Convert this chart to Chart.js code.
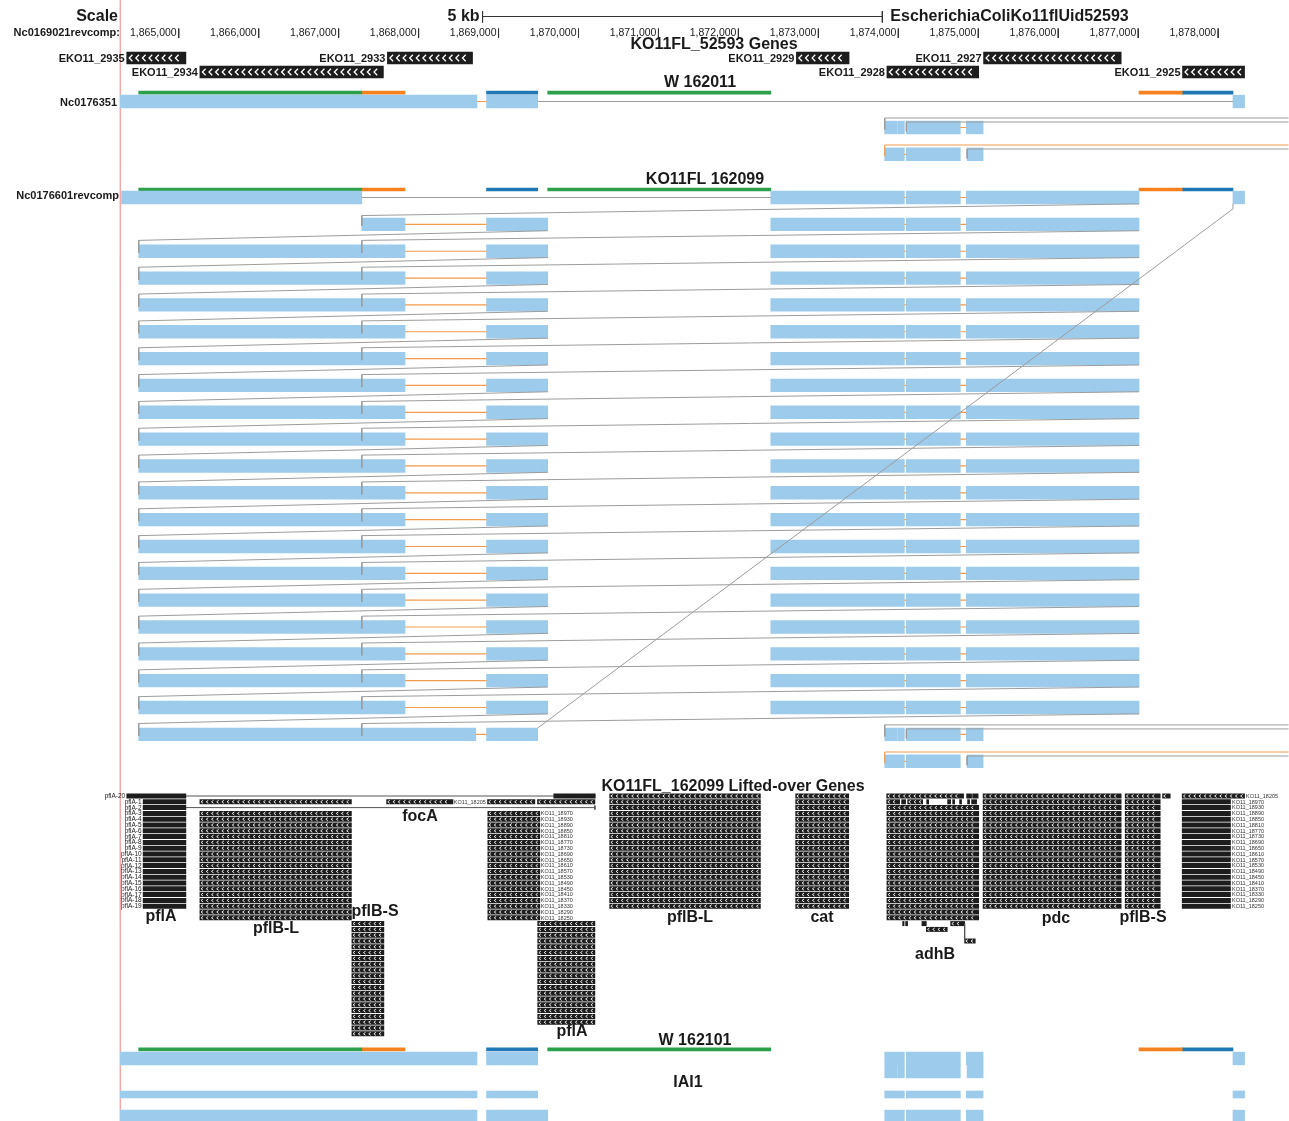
<!DOCTYPE html>
<html><head><meta charset="utf-8">
<script src="https://cdn.jsdelivr.net/npm/chart.js@4.4.1/dist/chart.umd.min.js"></script>
<style>html,body{margin:0;padding:0;background:#fff;overflow:hidden}canvas{display:block}</style>
</head><body>
<canvas id="c" width="1289" height="1121" style="width:1289px;height:1121px"></canvas>
<script>
// ================= DATA (genomic coordinates, Nc0169021revcomp) =================
const tickValues = [1865000,1866000,1867000,1868000,1869000,1870000,1871000,1872000,1873000,1874000,1875000,1876000,1877000,1878000];
const tickLabels = ['1,865,000','1,866,000','1,867,000','1,868,000','1,869,000','1,870,000','1,871,000','1,872,000','1,873,000','1,874,000','1,875,000','1,876,000','1,877,000','1,878,000'];
const viewRange = [1864270, 1878880];
const scaleBar = [1868800, 1873800];   // 5 kb

// KO11FL_52593 Genes
const geneNames  = ['EKO11_2935','EKO11_2934','EKO11_2933','EKO11_2929','EKO11_2928','EKO11_2927','EKO11_2925'];
const geneStarts = [1864350,1865265,1867610,1872725,1873857,1875066,1877554];
const geneEnds   = [1865090,1867560,1868675,1873384,1875005,1876787,1878330];
const geneLanes  = [0,1,0,0,1,0,1];

// synteny annotation segments shown above W 162011 / KO11FL 162099 / W 162101
const synGreen  = [[1864500,1867290],[1869615,1872405]];
const synOrange = [[1867290,1867830],[1877010,1877550]];
const synBlue   = [[1868850,1869490],[1877550,1878185]];

// chain / net alignment blocks
const blocksNc0176351 = [[1864270,1868730],[1868850,1869490],[1878185,1878330]];
const blocksSplitA    = [[1873830,1873980],[1873990,1874075],[1874100,1874775],[1874850,1875060]];
const blocksSplitB    = [[1873830,1874075],[1874100,1874775],[1874860,1875060]];
const blocksNc0176601 = [[1864285,1867290],[1872405,1874075],[1874100,1874775],[1874850,1877010],[1878185,1878330]];
const blocksKoFirst   = [[1867290,1867830],[1868850,1869615],[1872405,1874075],[1874100,1874775],[1874850,1877010]];
const blocksKoMid     = [[1864500,1867830],[1868850,1869615],[1872405,1874075],[1874100,1874775],[1874850,1877010]];
const blocksKoLast    = [[1864500,1868716],[1868850,1869490]];
const koRowKinds      = ['first','mid','mid','mid','mid','mid','mid','mid','mid','mid','mid','mid','mid','mid','mid','mid','mid','mid','mid','last'];
const blocksW101a     = [[1864270,1868730],[1868850,1869490],[1873830,1874075],[1874100,1874775],[1874850,1875060],[1878185,1878330]];
const blocksW101b     = [[1873830,1873980],[1873990,1874075],[1874100,1874775],[1874860,1875060]];
const blocksIAI1a     = [[1864270,1868730],[1868850,1869490],[1873830,1874075],[1874100,1874775],[1874850,1875060],[1878185,1878330]];
const blocksIAI1b     = [[1864270,1868730],[1868850,1869615],[1873830,1874075],[1874100,1874775],[1874850,1875060],[1878185,1878330]];

// gaps (double-sided, orange) and single-sided gaps (grey)
const gapNc0176351 = [[1868730,1868850]];
const gapSplitA    = [[1874775,1874850]];
const gapSplitB    = [[1874075,1874100]];
const gapNc0176601 = [[1874075,1874100],[1874775,1874850]];
const gapKo        = [[1867830,1868850],[1874075,1874100],[1874775,1874850]];
const gapKoLast    = [[1868716,1868850]];
const lineNc0176351 = [[1869490,1878185]];
const lineNc0176601 = [[1867290,1872405]];
const koLinkFrom = [1864500, 1867290];
const koLinkTo   = [1869615, 1877010];
const koDiagonal = [1869490, 1878185];
const splitAFrom = [1873830, 1874100];
const splitBFrom = [1873830, 1874860];

// KO11FL_162099 Lifted-over Genes: columns [start, end, firstLane, lastLane, chevrons]
const liftedColumns = [
  [1864555,1865090, 1,19,false],
  [1865265,1867160, 3,21,true],
  [1867166,1867566,22,41,true],
  [1868866,1869516, 3,21,true],
  [1869490,1870205,22,39,true],
  [1870390,1872275, 0,19,true],
  [1872716,1873379, 0,19,true],
  [1873857,1875005, 2,21,true],
  [1875060,1876787, 0,19,true],
  [1876837,1877275, 0,19,true],
  [1877550,1878154, 1,19,false]
];
// single lifted pieces [start, end, lane, chevrons]
const liftedPieces = [
  [1864350,1865090,0,false],[1869690,1870210,0,false],
  [1865265,1867160,1,true],[1867600,1868430,1,true],[1868862,1869454,1,true],[1869487,1870205,1,true],
  [1873854,1874816,0,true],[1874854,1874916,0,false],[1874929,1874998,0,false],
  [1877304,1877400,0,true],[1877550,1878330,0,true],
  [1873854,1874016,1,true],[1874041,1874091,1,false],[1874116,1874304,1,true],[1874354,1874379,1,false],
  [1874616,1874654,1,false],[1874679,1874704,1,false],[1874766,1874791,1,false],[1874866,1874891,1,false],[1874916,1874979,1,false],
  [1874054,1874072,22,false],[1874091,1874116,22,false],[1874295,1874350,22,false],[1874654,1874829,22,true],
  [1874350,1874612,23,true],[1874829,1874962,25,true]
];
const liftedLines = [[1865090,1869690,0],[1865090,1870205,2]];
const pflALabels = ['pflA-20','pflA-1','pflA-2','pflA-3','pflA-4','pflA-5','pflA-6','pflA-7','pflA-8','pflA-9','pflA-10','pflA-11','pflA-12','pflA-13','pflA-14','pflA-15','pflA-16','pflA-17','pflA-18','pflA-19'];
const liftIds = ['KO11_18970','KO11_18930','KO11_18890','KO11_18850','KO11_18810','KO11_18770','KO11_18730','KO11_18690','KO11_18650','KO11_18610','KO11_18570','KO11_18530','KO11_18490','KO11_18450','KO11_18410','KO11_18370','KO11_18330','KO11_18290','KO11_18250'];
const liftedNames = ['pflA','pflB-L','pflB-S','focA','pflA','pflB-L','cat','adhB','pdc','pflB-S'];

// ================= LAYOUT / STYLE =================
const ROW = { gene:[58,72], synTop:92.7, nc0176351:101.5, w1a:127.5, w1b:154.3, synMid:189.5, nc0176601:197.5,
  koStart:224.4, koPitch:26.84, x1:734.4, x2:761.3, liftStart:796, liftPitch:5.8,
  synBot:1049.3, w101a:1058.5, w101b:1071.5, iai1a:1094.5, iai1b:1116.5 };
const H = { block:12.7, syn:3, gene:12, lift:4.3, thin:7 };
const liftedNamePos = [[161,917],[276,929],[375,912],[420,817],[572,1032],[690,918],[822,918],[935,955],[1056,919],[1143,918]];
const C = { block:'#9ccbeb', green:'#2ca04a', orange:'#f5821f', blue:'#1f78b4', black:'#1d1d1d',
  link:'#9c9c9c', gap:'#f29b4c', text:'#1a1a1a', guide:'#f4a9a9' };
const FONT = "'Liberation Sans', Arial, sans-serif";
const PX_PER_BP = 0.07996, TICK0_PX = 178.7;
const X_MIN = 1865000 - TICK0_PX / PX_PER_BP, X_MAX = X_MIN + 1289 / PX_PER_BP;

const koY = k => ROW.koStart + ROW.koPitch * k;
const laneY = i => ROW.liftStart + ROW.liftPitch * i;
const rowTop = y => y - H.block / 2, rowBot = y => y + H.block / 2;

// ---------- build bar items ----------
const blockItems = [], thinItems = [];
const addBlocks = (arr, list, y) => list.forEach(([s, e]) => arr.push({ x: [s, e], y }));
addBlocks(blockItems, blocksNc0176351, ROW.nc0176351);
addBlocks(blockItems, blocksSplitA, ROW.w1a);
addBlocks(blockItems, blocksSplitB, ROW.w1b);
addBlocks(blockItems, blocksNc0176601, ROW.nc0176601);
const kindBlocks = { first: blocksKoFirst, mid: blocksKoMid, last: blocksKoLast };
koRowKinds.forEach((k, i) => addBlocks(blockItems, kindBlocks[k], koY(i)));
addBlocks(blockItems, blocksSplitA, ROW.x1);
addBlocks(blockItems, blocksSplitB, ROW.x2);
addBlocks(blockItems, blocksW101a, ROW.w101a);
addBlocks(blockItems, blocksW101b, ROW.w101b);
addBlocks(blockItems, blocksIAI1b, ROW.iai1b);
addBlocks(thinItems, blocksIAI1a, ROW.iai1a);

const synItems = { g: [], o: [], b: [] };
[ROW.synTop, ROW.synMid, ROW.synBot].forEach(y => {
  addBlocks(synItems.g, synGreen, y); addBlocks(synItems.o, synOrange, y); addBlocks(synItems.b, synBlue, y);
});

const geneItems = geneNames.map((n, i) => ({ x: [geneStarts[i], geneEnds[i]], y: ROW.gene[geneLanes[i]] }));

const liftChev = [], liftSolid = [];
liftedColumns.forEach(([s, e, a, b, chev]) => {
  for (let l = a; l <= b; l++) (chev ? liftChev : liftSolid).push({ x: [s, e], y: laneY(l) });
});
liftedPieces.forEach(([s, e, l, chev]) => (chev ? liftChev : liftSolid).push({ x: [s, e], y: laneY(l) }));

// ---------- build line segments ----------
function segs() { const pts = []; pts.add = (x1, y1, x2, y2) => { pts.push({x:x1,y:y1},{x:x2,y:y2},{x:null,y:null}); }; return pts; }
const greyLines = segs(), orangeLines = segs(), darkLines = segs(), guideLine = segs(), liftLines = segs();

const addGaps = (list, y) => list.forEach(([s, e]) => orangeLines.add(s, y, e, y));
addGaps(gapNc0176351, ROW.nc0176351);
addGaps(gapSplitA, ROW.w1a); addGaps(gapSplitB, ROW.w1b);
addGaps(gapNc0176601, ROW.nc0176601);
koRowKinds.forEach((k, i) => addGaps(k === 'last' ? gapKoLast : gapKo, koY(i)));
addGaps(gapSplitA, ROW.x1); addGaps(gapSplitB, ROW.x2);
lineNc0176351.forEach(([s, e]) => greyLines.add(s, ROW.nc0176351, e, ROW.nc0176351));
lineNc0176601.forEach(([s, e]) => greyLines.add(s, ROW.nc0176601, e, ROW.nc0176601));

// chain links between stacked KO11FL rows
koRowKinds.forEach((k, i) => {
  const y = koY(i);
  const prevBot = i === 0 ? rowBot(ROW.nc0176601) : rowBot(koY(i - 1));
  if (i === 0) {
    greyLines.add(koLinkFrom[1], rowTop(y) - 2.5, koLinkTo[1], prevBot);
    greyLines.add(koLinkFrom[1], rowTop(y) - 2.5, koLinkFrom[1], rowTop(y) + 8);
  } else {
    for (let j = 0; j < 2; j++) {
      greyLines.add(koLinkFrom[j], rowTop(y) - 4.5, koLinkTo[j], prevBot);
      greyLines.add(koLinkFrom[j], rowTop(y) - 4.5, koLinkFrom[j], rowTop(y) + 8);
    }
  }
});
greyLines.add(koDiagonal[0], rowTop(koY(19)), koDiagonal[1], rowBot(ROW.nc0176601) + 5);
greyLines.add(koDiagonal[1], rowBot(ROW.nc0176601) + 5, koDiagonal[1], rowBot(ROW.nc0176601));

// split rows leaving the view to the right
[ROW.w1a, ROW.x1].forEach(y => {
  greyLines.add(splitAFrom[0], y - 9.5, viewRange[1], y - 9.5);
  greyLines.add(splitAFrom[0], y - 9.5, splitAFrom[0], y + 2);
  greyLines.add(splitAFrom[1], y - 5.5, viewRange[1], y - 5.5);
  greyLines.add(splitAFrom[1], y - 5.5, splitAFrom[1], y + 4);
});
[ROW.w1b, ROW.x2].forEach(y => {
  orangeLines.add(splitBFrom[0], y - 9.3, viewRange[1], y - 9.3);
  orangeLines.add(splitBFrom[0], y - 9.3, splitBFrom[0], y + 2);
  greyLines.add(splitBFrom[1], y - 5.3, viewRange[1], y - 5.3);
  greyLines.add(splitBFrom[1], y - 5.3, splitBFrom[1], y + 4);
});

// scale bar and ruler ticks
darkLines.add(scaleBar[0], 16.5, scaleBar[1], 16.5);
darkLines.add(scaleBar[0], 11, scaleBar[0], 22.5);
darkLines.add(scaleBar[1], 11, scaleBar[1], 22.5);
tickValues.forEach(t => darkLines.add(t, 28.5, t, 38));
guideLine.add(viewRange[0], 0, viewRange[0], 1121);
liftedLines.forEach(([s, e, l]) => liftLines.add(s, laneY(l), e, laneY(l)));
liftLines.add(liftedLines[1][1], laneY(2) - 2, liftedLines[1][1], laneY(2) + 2);
liftLines.add(1874829, laneY(22), 1874829, laneY(25));

// ================= CHART =================
const barDS = (data, thick, color, extra) => Object.assign({ type: 'bar', data, barThickness: thick, backgroundColor: color,
  borderWidth: 0, grouped: false, order: 5 }, extra || {});
const lineDS = (data, color, w, order) => ({ type: 'line', data, borderColor: color, borderWidth: w, pointRadius: 0,
  pointHoverRadius: 0, fill: false, tension: 0, spanGaps: false, order });

const chevronPlugin = {
  id: 'chevrons',
  afterDatasetsDraw(chart) {
    const ctx = chart.ctx;
    chart.data.datasets.forEach((ds, i) => {
      const c = ds.chevron; if (!c) return;
      const meta = chart.getDatasetMeta(i);
      ctx.save(); ctx.strokeStyle = '#ffffff'; ctx.lineWidth = c.lw; ctx.lineJoin = 'miter';
      ctx.beginPath();
      meta.data.forEach(el => {
        const p = el.getProps(['x', 'y', 'base'], true);
        const l = Math.min(p.x, p.base), r = Math.max(p.x, p.base);
        for (let x = l + c.pad; x + c.w <= r - c.pad + 0.01; x += c.step) {
          ctx.moveTo(x + c.w, p.y - c.hh); ctx.lineTo(x, p.y); ctx.lineTo(x + c.w, p.y + c.hh);
        }
      });
      ctx.stroke(); ctx.restore();
    });
  }
};

const textPlugin = {
  id: 'texts',
  afterDraw(chart) {
    const ctx = chart.ctx, xs = chart.scales.x;
    const T = (t, x, y, size, bold, align, color) => {
      ctx.font = (bold ? 'bold ' : '') + size + 'px ' + FONT;
      ctx.fillStyle = color || C.text; ctx.textAlign = align; ctx.textBaseline = 'middle';
      ctx.fillText(t, x, y);
    };
    ctx.save();
    T('Scale', 118, 17, 16, true, 'right');
    T('5 kb', xs.getPixelForValue(scaleBar[0]) - 3, 17, 16, true, 'right');
    T('EscherichiaColiKo11flUid52593', xs.getPixelForValue(scaleBar[1]) + 8, 17, 16, true, 'left');
    T('Nc0169021revcomp:', 120, 33, 11, true, 'right');
    tickValues.forEach((t, i) => T(tickLabels[i], xs.getPixelForValue(t) - 2, 33.5, 10.5, false, 'right'));
    T('KO11FL_52593 Genes', 714, 45, 16, true, 'center');
    geneNames.forEach((n, i) => T(n, xs.getPixelForValue(geneStarts[i]) - 2, ROW.gene[geneLanes[i]] + 0.5, 11, true, 'right'));
    T('W 162011', 700, 83, 16, true, 'center');
    T('Nc0176351', 117, 103, 11, true, 'right');
    T('KO11FL 162099', 705, 180, 16, true, 'center');
    T('Nc0176601revcomp', 119, 196, 11, true, 'right');
    T('KO11FL_162099 Lifted-over Genes', 733, 787, 16, true, 'center');
    pflALabels.forEach((t, i) => T(t, xs.getPixelForValue(i === 0 ? liftedPieces[0][0] : liftedColumns[0][0]) - 1.5, laneY(i) + 0.3, 6.5, false, 'right'));
    liftIds.forEach((t, i) => {
      T(t, xs.getPixelForValue(liftedColumns[3][1]) + 1, laneY(i + 3) + 0.3, 5.5, false, 'left', '#333');
      T(t, xs.getPixelForValue(liftedColumns[10][1]) + 1.5, laneY(i + 1) + 0.3, 5.5, false, 'left', '#333');
    });
    T('KO11_18205', xs.getPixelForValue(1868441), laneY(1) + 0.3, 5.5, false, 'left', '#333');
    T('KO11_18205', xs.getPixelForValue(1878330) + 1.5, laneY(0) + 0.3, 5.5, false, 'left', '#333');
    liftedNames.forEach((t, i) => T(t, liftedNamePos[i][0], liftedNamePos[i][1], 16, true, 'center'));
    T('W 162101', 695, 1041, 16, true, 'center');
    T('IAI1', 688, 1083, 16, true, 'center');
    ctx.restore();
  }
};

new Chart(document.getElementById('c'), {
  type: 'bar',
  data: {
    datasets: [
      lineDS(greyLines, C.link, 1, 1),
      lineDS(orangeLines, C.gap, 1.2, 1),
      lineDS(darkLines, '#333333', 1, 1),
      lineDS(liftLines, '#555555', 1, 1),
      lineDS(guideLine, C.guide, 1, 9),
      barDS(blockItems, H.block, C.block),
      barDS(thinItems, H.thin, C.block),
      barDS(synItems.g, H.syn, C.green),
      barDS(synItems.o, H.syn, C.orange),
      barDS(synItems.b, H.syn, C.blue),
      barDS(geneItems, H.gene, C.black, { chevron: { step: 6.6, w: 3.2, hh: 3.2, lw: 1.3, pad: 2.5 } }),
      barDS(liftSolid, H.lift, C.black),
      barDS(liftChev, H.lift, C.black, { chevron: { step: 5.2, w: 2, hh: 1.5, lw: 0.9, pad: 1.2 } })
    ]
  },
  options: {
    indexAxis: 'y',
    responsive: false,
    maintainAspectRatio: false,
    animation: false,
    events: [],
    layout: { padding: 0 },
    plugins: { legend: { display: false }, tooltip: { enabled: false }, title: { display: false } },
    scales: {
      x: { type: 'linear', min: X_MIN, max: X_MAX, display: false, offset: false, bounds: 'data', grid: { display: false } },
      y: { type: 'linear', min: 0, max: 1121, reverse: true, display: false, offset: false, bounds: 'data', grid: { display: false } }
    }
  },
  plugins: [chevronPlugin, textPlugin]
});
</script>
</body></html>
